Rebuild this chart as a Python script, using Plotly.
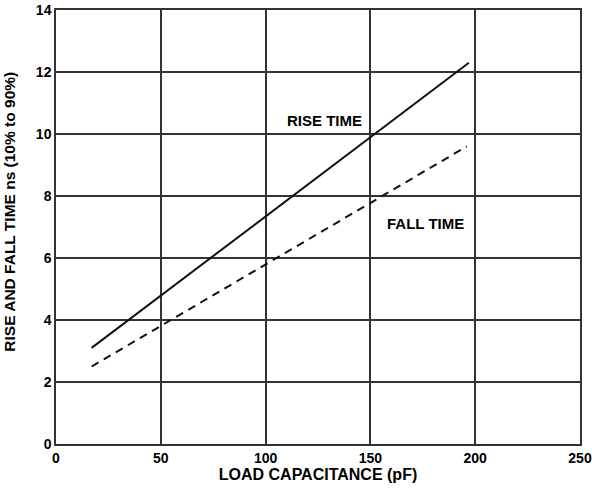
import plotly.graph_objects as go

# values
riseCap = [17, 197]
riseTime = [3.1, 12.3]
fallCap = [17, 196]
fallTime = [2.5, 9.6]
xTicks = [0, 50, 100, 150, 200, 250]
yTicks = [0, 2, 4, 6, 8, 10, 12, 14]

font = dict(family='Liberation Sans, Arial, sans-serif', color='black')

fig = go.Figure()
fig.add_trace(go.Scatter(x=riseCap, y=riseTime, mode='lines', name='RISE TIME',
                         line=dict(color='#111111', width=2)))
fig.add_trace(go.Scatter(x=fallCap, y=fallTime, mode='lines', name='FALL TIME',
                         line=dict(color='#111111', width=2, dash='8px,6px')))

fig.add_annotation(x=128, y=10.43, text='<b>RISE TIME</b>', showarrow=False,
                   font=dict(size=15, **font))
fig.add_annotation(x=176.5, y=7.1, text='<b>FALL TIME</b>', showarrow=False,
                   font=dict(size=15, **font))
# y title sits a bit above the plot centre in the reference, so place it by hand
fig.add_annotation(xref='paper', yref='paper', x=-0.088, y=0.535, textangle=-90,
                   xanchor='center', yanchor='middle',
                   text='<b>RISE AND FALL TIME ns (10% to 90%)</b>', showarrow=False,
                   font=dict(size=15.5, **font))

axis = dict(showgrid=True, gridcolor='#333333', gridwidth=1.5,
            showline=True, linecolor='#333333', linewidth=1.5, mirror=True,
            zeroline=False, ticks='', automargin=False,
            tickfont=dict(size=14, **font))

fig.update_layout(
    width=592, height=489,
    margin=dict(l=56, r=12, t=10, b=45),
    plot_bgcolor='white', paper_bgcolor='white',
    showlegend=False,
    font=font,
    xaxis=dict(range=[0, 250], tickvals=xTicks,
               ticktext=['<b>%d</b>' % v for v in xTicks],
               title=dict(text='<b>LOAD CAPACITANCE (pF)</b>', font=dict(size=16, **font), standoff=1),
               **axis),
    yaxis=dict(range=[0, 14], tickvals=yTicks,
               ticktext=['<b>%d</b>' % v for v in yTicks],
               **axis),
)

# page body has an 8px default margin, drop it so the figure fills the window
fig.write_html("out.html", config={'displayModeBar': False},
               post_script="document.body.style.margin='0';")
